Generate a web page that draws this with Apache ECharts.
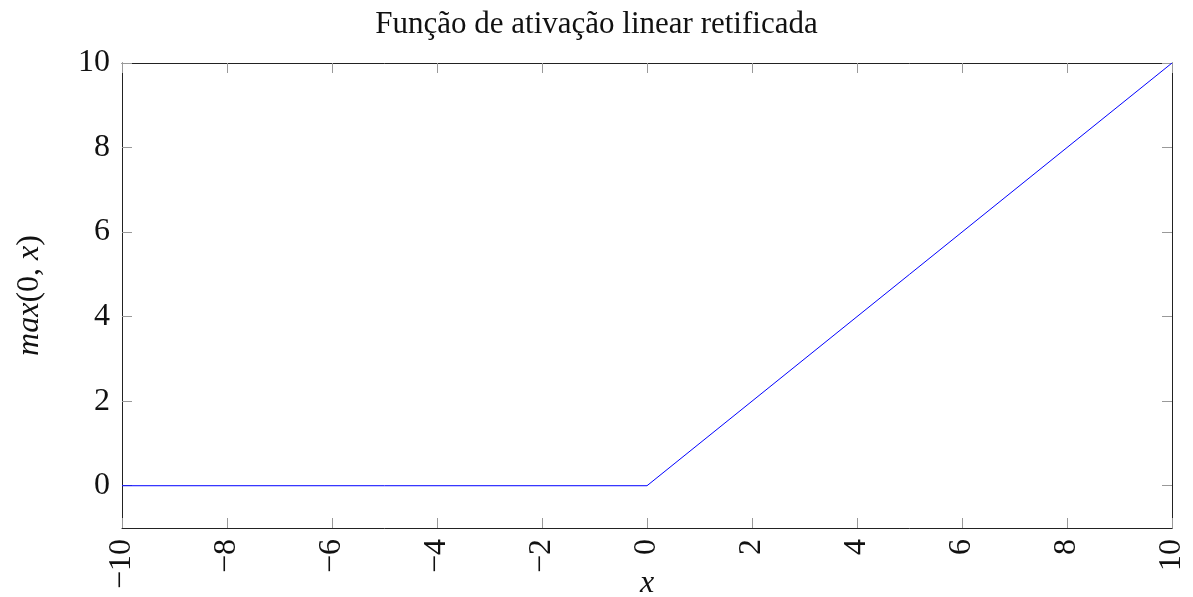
<!DOCTYPE html>
<html>
<head>
<meta charset="utf-8">
<script src="https://cdn.jsdelivr.net/npm/echarts@6/dist/echarts.min.js"></script>
<style>
  html, body { margin: 0; padding: 0; background: #fff; }
  #chart { width: 1193px; height: 597px; }
</style>
</head>
<body>
<div id="chart"></div>
<script>
// ReLU: max(0, x) sampled at its breakpoints
const xValues = [-10, 0, 10];
const yValues = [0, 0, 10];
const xTicks = [-10, -8, -6, -4, -2, 0, 2, 4, 6, 8, 10];
const yTicks = [0, 2, 4, 6, 8, 10];

const FONT = '"Liberation Serif", "DejaVu Serif", serif';
const SIZE = 32;
const fmt = v => (v < 0 ? '\u2212' + Math.abs(v) : String(v));

const chart = echarts.init(document.getElementById('chart'), null, { renderer: 'canvas' });

const frameLine = { show: true, onZero: false, lineStyle: { color: '#222', width: 1 } };
const innerTick = { show: true, inside: true, length: 10, lineStyle: { color: '#999', width: 1 } };

chart.setOption({
  animation: false,
  backgroundColor: '#fff',
  title: {
    text: 'Função de ativação linear retificada',
    left: 'center',
    top: 4,
    textStyle: { fontFamily: FONT, fontWeight: 'normal', fontSize: 31, color: '#111' }
  },
  grid: { left: 122, right: 21, top: 63, bottom: 69, containLabel: false, outerBoundsMode: 'none' },
  xAxis: [
    {
      type: 'value', position: 'bottom', min: -10, max: 10, interval: 2,
      name: 'x', nameLocation: 'middle', nameGap: 40, nameMoveOverlap: false,
      nameTextStyle: { fontFamily: FONT, fontStyle: 'italic', fontSize: SIZE, color: '#111' },
      axisLine: frameLine,
      axisTick: { ...innerTick, customValues: xTicks },
      axisLabel: { rotate: 90, margin: 11, fontFamily: FONT, fontSize: SIZE, color: '#111', formatter: fmt, customValues: xTicks },
      splitLine: { show: false }
    },
    {
      type: 'value', position: 'top', min: -10, max: 10, interval: 2,
      axisLine: frameLine,
      axisTick: { ...innerTick, customValues: xTicks },
      axisLabel: { show: false },
      splitLine: { show: false }
    }
  ],
  yAxis: [
    {
      type: 'value', position: 'left', min: -1, max: 10,
      name: '{i|max}(0, {i|x})', nameLocation: 'middle', nameGap: 76, nameRotate: 90, nameMoveOverlap: false,
      nameTextStyle: {
        fontFamily: FONT, fontSize: SIZE, color: '#111',
        rich: { i: { fontFamily: FONT, fontStyle: 'italic', fontSize: SIZE, color: '#111' } }
      },
      axisLine: frameLine,
      axisTick: { ...innerTick, customValues: yTicks },
      axisLabel: { margin: 12, fontFamily: FONT, fontSize: SIZE, color: '#111', formatter: fmt, customValues: yTicks },
      splitLine: { show: false }
    },
    {
      type: 'value', position: 'right', min: -1, max: 10,
      axisLine: frameLine,
      axisTick: { ...innerTick, customValues: yTicks },
      axisLabel: { show: false },
      splitLine: { show: false }
    }
  ],
  series: [{
    type: 'line',
    data: xValues.map((x, i) => [x, yValues[i]]),
    symbol: 'none',
    lineStyle: { color: '#0000ff', width: 1 },
    xAxisIndex: 0, yAxisIndex: 0
  }]
});
</script>
</body>
</html>
